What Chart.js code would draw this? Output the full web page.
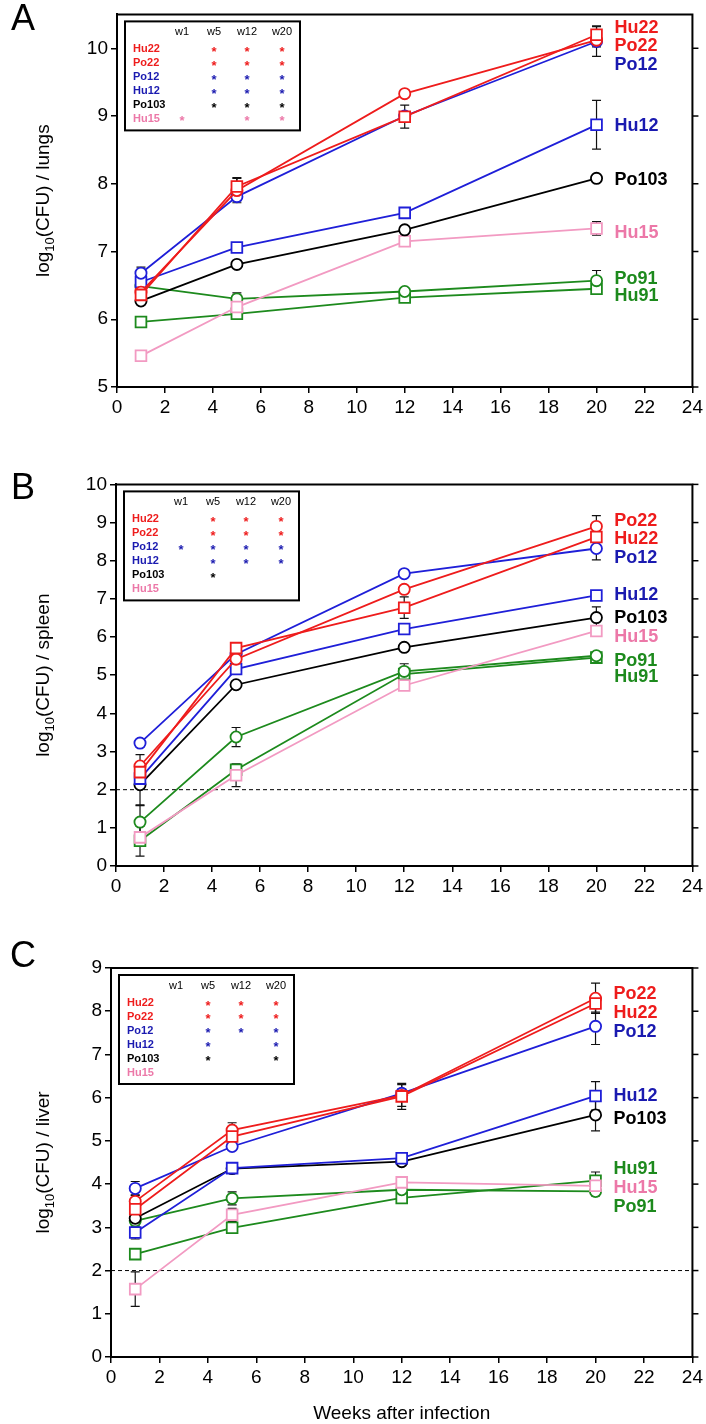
<!DOCTYPE html>
<html>
<head>
<meta charset="utf-8">
<script src="https://cdn.jsdelivr.net/npm/chart.js@4.4.0/dist/chart.umd.min.js"></script>
<style>
  html, body { margin: 0; padding: 0; background: #fff; }
  body { width: 706px; height: 1424px; position: relative; overflow: hidden; }
  canvas { position: absolute; left: 0; }
</style>
</head>
<body>
<canvas id="lungsChart" width="706" height="470" style="top:0px"></canvas>
<canvas id="spleenChart" width="706" height="465" style="top:470px"></canvas>
<canvas id="liverChart" width="706" height="489" style="top:935px"></canvas>
<script>
// Data
const weeks = [1, 5, 12, 20];
const strains = ['Hu22', 'Po22', 'Po12', 'Hu12', 'Po103', 'Hu15', 'Po91', 'Hu91'];
const xTicks = [0, 2, 4, 6, 8, 10, 12, 14, 16, 18, 20, 22, 24];

// log10(CFU) means, rows in strain order
const lungs = [
    [6.36, 7.96, 8.99, 10.20],
    [6.40, 7.90, 9.33, 10.12],
    [6.68, 7.81, 9.00, 10.10],
    [6.55, 7.06, 7.57, 8.87],
    [6.27, 6.81, 7.32, 8.08],
    [5.46, 6.18, 7.15, 7.34],
    [6.49, 6.30, 6.41, 6.57],
    [5.96, 6.08, 6.32, 6.45]
];
const lungsErr = [
    [0.08, 0.13, 0.17, 0.13],
    [0.06, 0.18, 0.05, 0.10],
    [0.09, 0.06, 0.05, 0.22],
    [0.07, 0.04, 0.05, 0.36],
    [0.05, 0.03, 0.04, 0.05],
    [0.04, 0.10, 0.06, 0.10],
    [0.04, 0.09, 0.04, 0.15],
    [0.04, 0.06, 0.04, 0.05]
];

const spleen = [
    [2.46, 5.71, 6.77, 8.62],
    [2.62, 5.42, 7.25, 8.90],
    [3.22, 5.55, 7.66, 8.32],
    [2.29, 5.16, 6.21, 7.09],
    [2.13, 4.75, 5.73, 6.51],
    [0.75, 2.38, 4.73, 6.16],
    [1.15, 3.38, 5.10, 5.51],
    [0.66, 2.52, 5.03, 5.46]
];
const spleenErr = [
    [0.25, 0.10, 0.28, 0.10],
    [0.30, 0.08, 0.10, 0.28],
    [0.05, 0.05, 0.05, 0.30],
    [0.10, 0.08, 0.06, 0.06],
    [0.55, 0.05, 0.05, 0.28],
    [0.10, 0.30, 0.08, 0.05],
    [0.45, 0.25, 0.20, 0.06],
    [0.40, 0.12, 0.10, 0.10]
];

const liver = [
    [3.42, 5.10, 6.03, 8.18],
    [3.60, 5.25, 6.05, 8.30],
    [3.90, 4.87, 6.10, 7.65],
    [2.88, 4.37, 4.60, 6.04],
    [3.21, 4.36, 4.52, 5.60],
    [1.57, 3.29, 4.04, 3.96],
    [3.15, 3.67, 3.87, 3.83],
    [2.38, 2.99, 3.68, 4.08]
];
const liverErr = [
    [0.15, 0.10, 0.30, 0.20],
    [0.15, 0.17, 0.25, 0.35],
    [0.16, 0.05, 0.10, 0.42],
    [0.15, 0.05, 0.05, 0.33],
    [0.10, 0.05, 0.05, 0.37],
    [0.40, 0.15, 0.05, 0.10],
    [0.08, 0.15, 0.05, 0.10],
    [0.10, 0.08, 0.06, 0.20]
];

// where the strain names sit next to week 20 (in log10 units)
const lungsLabelY = [10.30, 10.03, 9.76, 8.85, 8.05, 7.28, 6.60, 6.34];
const spleenLabelY = [8.56, 9.03, 8.06, 7.10, 6.51, 6.00, 5.38, 4.94];
const liverLabelY = [7.96, 8.40, 7.51, 6.03, 5.50, 3.91, 3.48, 4.35];

// significance table: rows Hu22, Po22, Po12, Hu12, Po103, Hu15; cols w1, w5, w12, w20
const tableRows = ['Hu22', 'Po22', 'Po12', 'Hu12', 'Po103', 'Hu15'];
const tableCols = ['w1', 'w5', 'w12', 'w20'];
const lungsStars = [[0,1,1,1],[0,1,1,1],[0,1,1,1],[0,1,1,1],[0,1,1,1],[1,0,1,1]];
const spleenStars = [[0,1,1,1],[0,1,1,1],[1,1,1,1],[0,1,1,1],[0,1,0,0],[0,0,0,0]];
const liverStars = [[0,1,1,1],[0,1,1,1],[0,1,1,1],[0,1,0,1],[0,1,0,1],[0,0,0,0]];

const lungsYTicks = [5, 6, 7, 8, 9, 10];
const spleenYTicks = [0, 1, 2, 3, 4, 5, 6, 7, 8, 9, 10];
const liverYTicks = [0, 1, 2, 3, 4, 5, 6, 7, 8, 9];

// Styles
const FONT = "'Liberation Sans', Arial, sans-serif";
const RED = '#ee1c1c', BLUE = '#1f1fd8', BLACK = '#000000', PINK = '#f29ac2', GREEN = '#1d8a1d';
const lineColors = [RED, RED, BLUE, BLUE, BLACK, PINK, GREEN, GREEN];
const textColors = ['#ee1c1c', '#ee1c1c', '#1a1ab0', '#1a1ab0', '#000000', '#ec78a8', '#1d8a1d', '#1d8a1d'];
const markers = ['rect', 'circle', 'circle', 'rect', 'circle', 'rect', 'circle', 'rect'];
const rowColors = ['#ee1c1c', '#ee1c1c', '#1a1ab0', '#1a1ab0', '#000000', '#ec78a8'];

function buildDatasets(values) {
    return strains.map((name, i) => ({
        label: name,
        data: weeks.map((w, j) => ({ x: w, y: values[i][j] })),
        borderColor: lineColors[i],
        borderWidth: 1.8,
        tension: 0,
        pointStyle: markers[i],
        pointRadius: markers[i] === 'rect' ? 7.6 : 5.6,
        pointBorderWidth: 1.8,
        pointBorderColor: lineColors[i],
        pointBackgroundColor: '#ffffff',
        pointHoverRadius: markers[i] === 'rect' ? 7.6 : 5.6
    }));
}

// Extra drawing: error bars, frame, labels, table, titles
function makeExtras(cfg) {
    return {
        id: 'extras' + cfg.letter,
        beforeDatasetsDraw(chart) {
            const ctx = chart.ctx;
            const xs = chart.scales.x, ys = chart.scales.y;
            const ca = chart.chartArea;
            ctx.save();
            if (cfg.dashedAt !== null) {
                ctx.strokeStyle = '#000';
                ctx.lineWidth = 1;
                ctx.setLineDash([4, 3]);
                const y = ys.getPixelForValue(cfg.dashedAt);
                ctx.beginPath();
                ctx.moveTo(ca.left, y);
                ctx.lineTo(ca.right, y);
                ctx.stroke();
                ctx.setLineDash([]);
            }
            // error bars
            ctx.strokeStyle = '#111';
            ctx.lineWidth = 1.2;
            cfg.values.forEach((row, i) => {
                row.forEach((v, j) => {
                    const e = cfg.errors[i][j];
                    if (!e) return;
                    const x = xs.getPixelForValue(weeks[j]);
                    const y1 = ys.getPixelForValue(v + e);
                    const y2 = ys.getPixelForValue(Math.max(v - e, ys.min));
                    ctx.beginPath();
                    ctx.moveTo(x, y1); ctx.lineTo(x, y2);
                    ctx.moveTo(x - 4.5, y1); ctx.lineTo(x + 4.5, y1);
                    ctx.moveTo(x - 4.5, y2); ctx.lineTo(x + 4.5, y2);
                    ctx.stroke();
                });
            });
            ctx.restore();
        },
        afterDraw(chart) {
            const ctx = chart.ctx;
            const xs = chart.scales.x, ys = chart.scales.y;
            const ca = chart.chartArea;
            ctx.save();

            // top and right frame, right ticks
            ctx.strokeStyle = '#000';
            ctx.lineWidth = 2;
            ctx.beginPath();
            ctx.moveTo(ca.left - 1, ca.top);
            ctx.lineTo(ca.right, ca.top);
            ctx.lineTo(ca.right, ca.bottom + 1);
            ctx.stroke();
            ctx.lineWidth = 1.5;
            cfg.yTicks.forEach(v => {
                const y = ys.getPixelForValue(v);
                ctx.beginPath();
                ctx.moveTo(ca.right, y);
                ctx.lineTo(ca.right + 6, y);
                ctx.stroke();
            });

            // strain names
            ctx.font = 'bold 18px ' + FONT;
            ctx.textAlign = 'left';
            ctx.textBaseline = 'middle';
            const lx = xs.getPixelForValue(20) + 18;
            strains.forEach((name, i) => {
                ctx.fillStyle = textColors[i];
                ctx.fillText(name, lx, ys.getPixelForValue(cfg.labelY[i]));
            });

            // significance table
            const bx = ca.left + 8, by = ca.top + 7, bw = 175, bh = 109;
            ctx.fillStyle = '#fff';
            ctx.fillRect(bx, by, bw, bh);
            ctx.strokeStyle = '#000';
            ctx.lineWidth = 2;
            ctx.strokeRect(bx, by, bw, bh);
            const colX = [57, 89, 122, 157];
            ctx.font = '11px ' + FONT;
            ctx.fillStyle = '#000';
            ctx.textAlign = 'center';
            tableCols.forEach((c, k) => ctx.fillText(c, bx + colX[k], by + 11));
            tableRows.forEach((r, i) => {
                const ry = by + 28 + i * 13.9;
                ctx.fillStyle = rowColors[i];
                ctx.textAlign = 'left';
                ctx.font = 'bold 11px ' + FONT;
                ctx.fillText(r, bx + 8, ry);
                ctx.textAlign = 'center';
                ctx.font = 'bold 13px ' + FONT;
                cfg.stars[i].forEach((s, k) => {
                    if (s) ctx.fillText('*', bx + colX[k], ry + 3);
                });
            });

            // panel letter
            ctx.fillStyle = '#000';
            ctx.font = '36px ' + FONT;
            ctx.textAlign = 'center';
            ctx.textBaseline = 'middle';
            ctx.fillText(cfg.letter, 23, cfg.letterY);

            // y title with subscript
            const cy = (ca.top + ca.bottom) / 2;
            ctx.translate(44, cy);
            ctx.rotate(-Math.PI / 2);
            ctx.font = '19px ' + FONT;
            const w1 = ctx.measureText('log').width;
            const rest = '(CFU) / ' + cfg.organ;
            const w3 = ctx.measureText(rest).width;
            ctx.font = '13px ' + FONT;
            const w2 = ctx.measureText('10').width;
            let sx = -(w1 + w2 + w3) / 2;
            ctx.textAlign = 'left';
            ctx.textBaseline = 'middle';
            ctx.font = '19px ' + FONT;
            ctx.fillText('log', sx, 0);
            ctx.font = '13px ' + FONT;
            ctx.fillText('10', sx + w1, 6);
            ctx.font = '19px ' + FONT;
            ctx.fillText(rest, sx + w1 + w2, 0);
            ctx.setTransform(1, 0, 0, 1, 0, 0);

            if (cfg.xTitle) {
                ctx.font = '19px ' + FONT;
                ctx.textAlign = 'center';
                ctx.textBaseline = 'middle';
                ctx.fillText(cfg.xTitle, (ca.left + ca.right) / 2, cfg.xTitleY);
            }
            ctx.restore();
        }
    };
}

function makeChart(canvasId, cfg) {
    const canvas = document.getElementById(canvasId);
    return new Chart(canvas.getContext('2d'), {
        type: 'line',
        data: { datasets: buildDatasets(cfg.values) },
        options: {
            responsive: false,
            animation: false,
            devicePixelRatio: 1,
            layout: { padding: { top: cfg.top, right: 706 - cfg.right, left: 0, bottom: 0 } },
            plugins: { legend: { display: false }, tooltip: { enabled: false } },
            scales: {
                x: {
                    type: 'linear',
                    min: 0,
                    max: 24,
                    afterBuildTicks: s => { s.ticks = xTicks.map(v => ({ value: v })); },
                    afterFit: s => { s.height = canvas.height - cfg.bottom; },
                    ticks: { color: '#000', font: { family: FONT, size: 19 }, padding: 3, autoSkip: false, maxRotation: 0 },
                    grid: { display: true, drawOnChartArea: false, drawTicks: true, tickLength: 6, color: '#000', lineWidth: 1.5 },
                    border: { display: true, color: '#000', width: 2 }
                },
                y: {
                    type: 'linear',
                    min: cfg.yMin,
                    max: cfg.yMax,
                    afterBuildTicks: s => { s.ticks = cfg.yTicks.map(v => ({ value: v })); },
                    afterFit: s => { s.width = cfg.left; },
                    ticks: { color: '#000', font: { family: FONT, size: 19 }, padding: 3 },
                    grid: { display: true, drawOnChartArea: false, drawTicks: true, tickLength: 6, color: '#000', lineWidth: 1.5 },
                    border: { display: true, color: '#000', width: 2 }
                }
            }
        },
        plugins: [makeExtras(cfg)]
    });
}

makeChart('lungsChart', {
    letter: 'A', letterY: 20, organ: 'lungs',
    values: lungs, errors: lungsErr, labelY: lungsLabelY, stars: lungsStars,
    yMin: 5, yMax: 10.5, yTicks: lungsYTicks, dashedAt: null,
    left: 117, right: 694, top: 2, bottom: 387
});

makeChart('spleenChart', {
    letter: 'B', letterY: 19, organ: 'spleen',
    values: spleen, errors: spleenErr, labelY: spleenLabelY, stars: spleenStars,
    yMin: 0, yMax: 10, yTicks: spleenYTicks, dashedAt: 2,
    left: 116, right: 693, top: 13, bottom: 396
});

makeChart('liverChart', {
    letter: 'C', letterY: 22, organ: 'liver',
    values: liver, errors: liverErr, labelY: liverLabelY, stars: liverStars,
    yMin: 0, yMax: 9, yTicks: liverYTicks, dashedAt: 2,
    left: 111, right: 693, top: 33, bottom: 422,
    xTitle: 'Weeks after infection', xTitleY: 479
});
</script>
</body>
</html>
